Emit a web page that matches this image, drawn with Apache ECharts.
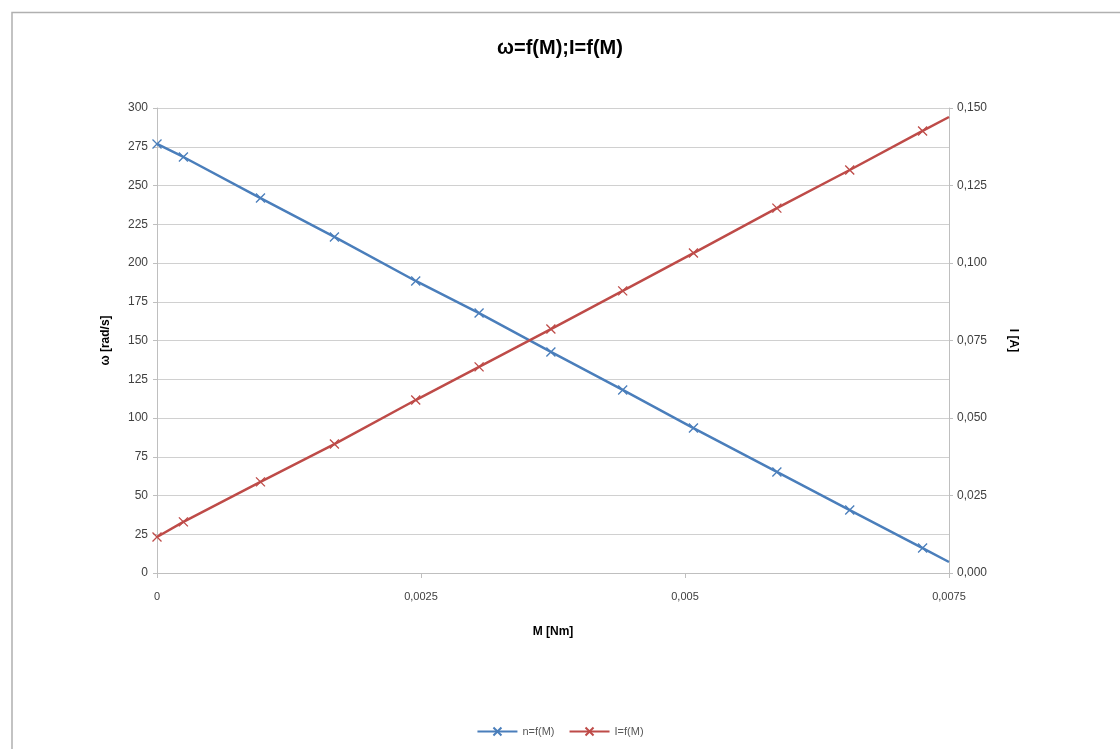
<!DOCTYPE html>
<html><head><meta charset="utf-8">
<script src="https://cdn.jsdelivr.net/npm/echarts@6/dist/echarts.min.js"></script>
<style>html,body{margin:0;padding:0;background:#fff}#c{width:1120px;height:749px}</style>
</head><body><div id="c"></div>
<script>
// Data
const torque = [0, 0.00025, 0.00098, 0.00168, 0.00245, 0.00305, 0.00373, 0.00441, 0.00508, 0.00587, 0.00656, 0.00725, 0.0075];
const omega = [276.8, 268.4, 241.9, 216.8, 188.4, 167.7, 142.6, 118.1, 93.5, 65.2, 40.6, 16.1, 7.1];
const current = [0.0116, 0.0165, 0.0294, 0.0416, 0.0558, 0.0665, 0.0787, 0.0910, 0.1032, 0.1177, 0.1300, 0.1426, 0.1471];
const markerShown = [1,1,1,1,1,1,1,1,1,1,1,1,0];
const seriesNames = ['n=f(M)', 'I=f(M)'];
const titleText = 'ω=f(M);I=f(M)';

const FONT = "'Liberation Sans', Arial, sans-serif";
const blue = '#4a7ebb', red = '#be4b48';
const xSym = 'path://M0,0L10,10M10,0L0,10';
function pts(ys){
  return torque.map((m,i)=>markerShown[i] ? [m, ys[i]] : {value:[m, ys[i]], symbol:'none'});
}
const chart = echarts.init(document.getElementById('c'));
chart.setOption({
  animation:false,
  backgroundColor:'#fff',
  textStyle:{fontFamily:FONT},
  title:{text:titleText,left:'center',top:33,textStyle:{fontFamily:FONT,fontSize:20,fontWeight:'bold',color:'#000'}},
  graphic:[{type:'polyline',shape:{points:[[12,749],[12,12.5],[1120,12.5]]},style:{stroke:'#b0b0b0',lineWidth:1.5,fill:'none'}}],
  grid:{left:157,right:171,top:108,bottom:176},
  legend:{bottom:7,left:'center',itemWidth:40,itemHeight:10,itemGap:14,
    textStyle:{fontSize:11,color:'#595959',fontFamily:FONT},data:seriesNames},
  xAxis:{type:'value',min:0,max:0.0075,interval:0.0025,
    name:'M [Nm]',nameLocation:'middle',nameGap:53,
    nameTextStyle:{fontWeight:'bold',fontSize:12,color:'#000'},
    axisLine:{show:true,lineStyle:{color:'#bfbfbf'}},
    axisTick:{show:true,length:5,lineStyle:{color:'#bfbfbf'}},
    axisLabel:{fontSize:11,color:'#404040',margin:18,formatter:v=>v===0?'0':String(Number(v.toPrecision(6))).replace('.',',')},
    splitLine:{show:false}},
  yAxis:[
    {type:'value',min:0,max:300,interval:25,position:'left',
     name:'ω [rad/s]',nameLocation:'middle',nameGap:45,nameRotate:90,
     nameTextStyle:{fontWeight:'bold',fontSize:12,color:'#000'},
     axisLine:{show:true,lineStyle:{color:'#bfbfbf'}},
     axisTick:{show:true,length:4,lineStyle:{color:'#bfbfbf'}},
     axisLabel:{fontSize:12,color:'#404040',margin:9},
     splitLine:{show:true,lineStyle:{color:'#d0d0d0',width:1}}},
    {type:'value',min:0,max:0.15,interval:0.025,position:'right',
     name:'I [A]',nameLocation:'middle',nameGap:58,nameRotate:-90,
     nameTextStyle:{fontWeight:'bold',fontSize:12,color:'#000'},
     axisLine:{show:true,lineStyle:{color:'#bfbfbf'}},
     axisTick:{show:true,length:4,lineStyle:{color:'#bfbfbf'}},
     axisLabel:{fontSize:12,color:'#404040',margin:8,formatter:v=>v.toFixed(3).replace('.',',')},
     splitLine:{show:false}}
  ],
  series:[
    {name:seriesNames[0],type:'line',yAxisIndex:0,data:pts(omega),symbol:xSym,symbolSize:9,
     lineStyle:{color:blue,width:2.5},itemStyle:{color:blue,borderColor:blue,borderWidth:1.3}},
    {name:seriesNames[1],type:'line',yAxisIndex:1,data:pts(current),symbol:xSym,symbolSize:9,
     lineStyle:{color:red,width:2.5},itemStyle:{color:red,borderColor:red,borderWidth:1.3}}
  ]
});
</script></body></html>
